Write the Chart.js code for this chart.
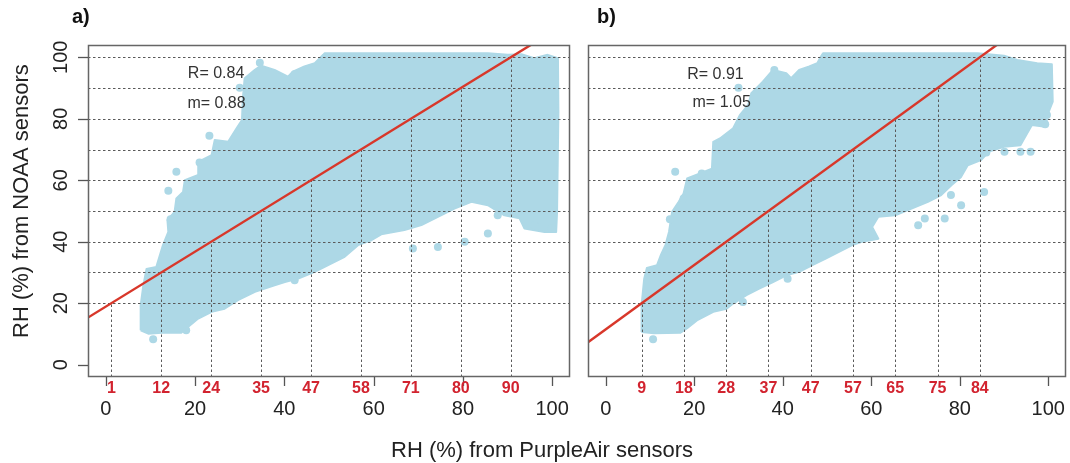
<!DOCTYPE html>
<html>
<head>
<meta charset="utf-8">
<title>RH PurpleAir vs NOAA</title>
<script src="https://cdn.jsdelivr.net/npm/chart.js@4.4.1/dist/chart.umd.min.js"></script>
<style>
  html, body { margin: 0; padding: 0; background: #fff; }
  #wrap { position: relative; width: 1070px; height: 463px; overflow: hidden; }
  #wrap canvas { position: absolute; top: 0; }
  #chartA { left: 0; }
  #chartB { left: 575px; }
</style>
</head>
<body>
<div id="wrap">
  <canvas id="chartA" width="1070" height="463"></canvas>
  <canvas id="chartB" width="495" height="463"></canvas>
</div>
<script>
const xTicks = [0, 20, 40, 60, 80, 100];
const yTicks = [0, 20, 40, 60, 80, 100];
const gridLevels = [20, 30, 40, 50, 60, 70, 80, 90, 100];

// a) outline of the dense point cloud, plus stray points outside it
const cloudA = [
  [7.8,11.2],[7.8,19.3],[8.4,25.8],[9.1,31.1],[11.3,31.8],[12.1,35.6],[12.8,38.9],[14.0,43.2],
  [13.8,47.0],[15.4,49.7],[15.8,54.1],[17.3,56.2],[17.7,60.0],[20.7,61.7],[20.7,66.0],[23.7,68.2],
  [24.4,73.1],[27.4,72.5],[29.3,76.9],[30.5,79.6],[30.7,86.6],[31.1,93.2],[33.4,95.9],[34.8,97.3],
  [37.8,95.9],[40.8,93.7],[41.9,95.3],[44.5,97.0],[46.8,98.1],[48.7,100.8],[49.0,101.3],[85.6,101.3],
  [90.1,100.8],[93.1,101.0],[96.0,99.7],[99.0,100.8],[101.3,99.7],[101.4,82.3],[101.1,49.7],[100.9,43.2],
  [98.3,43.2],[93.8,44.3],[92.7,47.6],[89.3,48.6],[85.6,51.9],[81.9,53.0],[78.1,50.8],[74.4,48.1],
  [70.7,45.4],[66.9,43.8],[61.7,42.4],[59.5,40.5],[56.5,38.9],[53.5,35.1],[49.8,32.4],[46.8,30.2],
  [43.1,28.0],[40.1,26.9],[37.8,25.8],[33.4,23.7],[29.6,21.0],[26.6,18.2],[23.7,17.2],[20.7,15.0],
  [18.4,12.3],[16.9,10.4],[12.5,10.4],[9.5,10.1]
];
const outliersA = [
  [10.6,8.3],[18.0,11.2],[42.3,27.5],[68.8,37.8],[74.4,38.3],[80.4,40.0],[85.6,42.7],[87.8,48.6],
  [96.0,45.4],[99.8,44.3],[14.5,47.3],[15.8,62.8],[14.0,56.6],[21.0,65.8],[30.0,90.1],[42.3,94.5],
  [34.5,98.2],[23.2,74.5]
];
const crossLabelsA = ['1', '12', '24', '35', '47', '58', '71', '80', '90'];
const statsA = ['R= 0.84', 'm= 0.88'];
const fitA = { slope: 0.894, intercept: 18.9 };

// b)
const cloudB = [
  [8.1,10.6],[8.1,19.3],[8.7,28.0],[9.3,31.5],[11.6,32.4],[12.5,35.8],[13.5,38.9],[14.3,43.2],
  [15.0,49.7],[16.5,53.0],[17.6,55.7],[18.4,60.6],[21.3,62.2],[24.0,63.8],[24.3,72.5],[25.8,73.6],
  [28.8,76.9],[30.3,81.2],[32.2,84.5],[32.9,88.3],[35.5,92.1],[37.8,95.9],[40.8,94.8],[41.9,93.2],
  [43.7,95.9],[46.0,97.0],[47.8,98.1],[48.6,100.2],[49.1,101.3],[84.0,101.3],[90.0,100.5],[93.0,99.1],
  [97.5,98.1],[100.8,97.7],[101.0,85.6],[100.1,82.3],[99.3,77.4],[96.3,78.0],[95.2,75.2],[93.7,71.4],
  [90.0,70.9],[86.6,69.3],[84.8,66.6],[81.8,64.9],[80.3,61.1],[78.1,58.4],[75.8,55.2],[72.8,53.0],
  [69.1,50.8],[65.4,48.6],[61.6,48.1],[60.2,44.8],[61.6,41.0],[57.9,40.0],[55.7,38.9],[52.7,36.7],
  [49.7,34.5],[46.7,32.4],[43.7,30.2],[40.8,29.1],[37.8,26.9],[34.8,24.8],[31.8,22.6],[28.8,19.9],
  [27.3,18.2],[24.3,17.2],[20.6,14.4],[18.4,11.9],[16.9,10.4],[10.9,10.2]
];
const outliersB = [
  [10.7,8.3],[41.1,28.0],[31.0,20.4],[70.6,45.4],[72.1,47.6],[76.6,47.6],[80.3,51.9],[85.5,56.2],
  [78.0,55.2],[93.7,69.3],[96.0,69.3],[99.7,81.2],[99.3,78.2],[15.7,62.8],[14.5,47.3],[17.6,54.1],
  [21.7,62.2],[30.0,90.1],[38.1,95.9],[90.1,69.3],[86.0,69.0]
];
const crossLabelsB = ['9', '18', '28', '37', '47', '57', '65', '75', '84'];
const statsB = ['R= 0.91', 'm= 1.05'];
const fitB = { slope: 1.047, intercept: 11.5 };

const FONT = "'Liberation Sans', Arial, Helvetica, sans-serif";
const CLOUD = '#add8e6';

const toXY = arr => arr.map(p => ({ x: p[0], y: p[1] }));
const crossings = fit => gridLevels.map(l => (l - fit.intercept) / fit.slope);

function seg(ctx, x1, y1, x2, y2) {
  ctx.beginPath();
  ctx.moveTo(x1, y1);
  ctx.lineTo(x2, y2);
  ctx.stroke();
}

// R-style frame, ticks, dotted guide lines and labels
const rPlot = {
  id: 'rplot',
  beforeDatasetDraw(chart, args, opts) {
    if (args.index !== 0) return;
    const { ctx, chartArea: a, scales: { x, y } } = chart;
    ctx.save();
    ctx.beginPath();
    ctx.rect(a.left, a.top, a.right - a.left, a.bottom - a.top);
    ctx.clip();
    ctx.strokeStyle = '#5a5a5a';
    ctx.lineWidth = 1;
    ctx.setLineDash([2.5, 2.5]);
    gridLevels.forEach(l => {
      const py = Math.round(y.getPixelForValue(l)) + 0.5;
      seg(ctx, a.left, py, a.right, py);
    });
    crossings(opts.fit).forEach((cx, i) => {
      const px = Math.round(x.getPixelForValue(cx)) + 0.5;
      seg(ctx, px, a.bottom, px, y.getPixelForValue(gridLevels[i]));
    });
    ctx.restore();
  },
  afterDraw(chart, args, opts) {
    const { ctx, chartArea: a, scales: { x, y } } = chart;
    ctx.save();
    ctx.strokeStyle = '#666';
    ctx.lineWidth = 1.5;
    ctx.strokeRect(Math.round(a.left) + 0.5, Math.round(a.top) + 0.5,
      Math.round(a.right - a.left) - 1, Math.round(a.bottom - a.top) - 1);

    ctx.strokeStyle = '#555';
    ctx.lineWidth = 1.3;
    xTicks.forEach(v => {
      const px = Math.round(x.getPixelForValue(v)) + 0.5;
      seg(ctx, px, a.bottom, px, a.bottom + 9);
    });
    ctx.fillStyle = '#222';
    ctx.font = '20px ' + FONT;
    ctx.textAlign = 'center';
    ctx.textBaseline = 'alphabetic';
    xTicks.forEach(v => ctx.fillText(String(v), x.getPixelForValue(v), 415));

    if (opts.yLabels) {
      yTicks.forEach(v => {
        const py = Math.round(y.getPixelForValue(v)) + 0.5;
        seg(ctx, a.left, py, a.left - 10, py);
        ctx.save();
        ctx.translate(67, y.getPixelForValue(v));
        ctx.rotate(-Math.PI / 2);
        ctx.fillText(String(v), 0, 0);
        ctx.restore();
      });
    }

    ctx.fillStyle = '#d2232f';
    ctx.font = 'bold 16px ' + FONT;
    crossings(opts.fit).forEach((cx, i) => {
      ctx.fillText(opts.crossLabels[i], x.getPixelForValue(cx), 393);
    });

    ctx.fillStyle = '#333';
    ctx.font = '16px ' + FONT;
    ctx.textBaseline = 'middle';
    opts.stats.forEach((s, i) => {
      const p = opts.statsAt[i];
      ctx.fillText(s, x.getPixelForValue(p[0]), y.getPixelForValue(p[1]));
    });

    if (opts.figureText) {
      ctx.fillStyle = '#111';
      ctx.textBaseline = 'alphabetic';
      ctx.textAlign = 'left';
      ctx.font = 'bold 20px ' + FONT;
      ctx.fillText('a)', 72, 23);
      ctx.fillText('b)', 597, 23);
      ctx.fillStyle = '#222';
      ctx.font = '22px ' + FONT;
      ctx.textAlign = 'center';
      ctx.fillText('RH (%) from PurpleAir sensors', 542, 457);
      ctx.save();
      ctx.translate(28, 338);
      ctx.rotate(-Math.PI / 2);
      ctx.textAlign = 'left';
      ctx.fillText('RH (%) from NOAA sensors', 0, 0);
      ctx.restore();
    }
    ctx.restore();
  }
};

function makePanel(id, cloud, outliers, fit, padding, extra) {
  const closed = cloud.concat([cloud[0]]);
  return new Chart(document.getElementById(id), {
    type: 'scatter',
    data: {
      datasets: [
        {
          data: [{ x: -4, y: fit.slope * -4 + fit.intercept }, { x: 104, y: fit.slope * 104 + fit.intercept }],
          showLine: true,
          borderColor: '#d8372a',
          borderWidth: 2.4,
          pointRadius: 0,
          clip: 0
        },
        {
          data: toXY(outliers),
          backgroundColor: CLOUD,
          borderWidth: 0,
          pointRadius: 4
        },
        {
          data: toXY(closed),
          showLine: true,
          fill: 'shape',
          backgroundColor: CLOUD,
          borderColor: CLOUD,
          borderWidth: 2,
          borderJoinStyle: 'round',
          pointRadius: 0,
          tension: 0
        }
      ]
    },
    options: {
      responsive: false,
      animation: false,
      devicePixelRatio: 1,
      layout: { padding: padding },
      scales: {
        x: { type: 'linear', min: -4, max: 104, display: false },
        y: { type: 'linear', min: -4, max: 104, display: false }
      },
      plugins: {
        legend: { display: false },
        tooltip: { enabled: false },
        rplot: Object.assign({ fit: fit }, extra)
      }
    },
    plugins: [rPlot]
  });
}

makePanel('chartA', cloudA, outliersA, fitA,
  { left: 88, right: 500, top: 45, bottom: 86 },
  { crossLabels: crossLabelsA, stats: statsA, statsAt: [[24.7, 94.6], [24.8, 84.8]], yLabels: true, figureText: true });

makePanel('chartB', cloudB, outliersB, fitB,
  { left: 13, right: 1, top: 45, bottom: 86 },
  { crossLabels: crossLabelsB, stats: statsB, statsAt: [[24.8, 94.5], [26.2, 85.4]], yLabels: false, figureText: false });
</script>
</body>
</html>
